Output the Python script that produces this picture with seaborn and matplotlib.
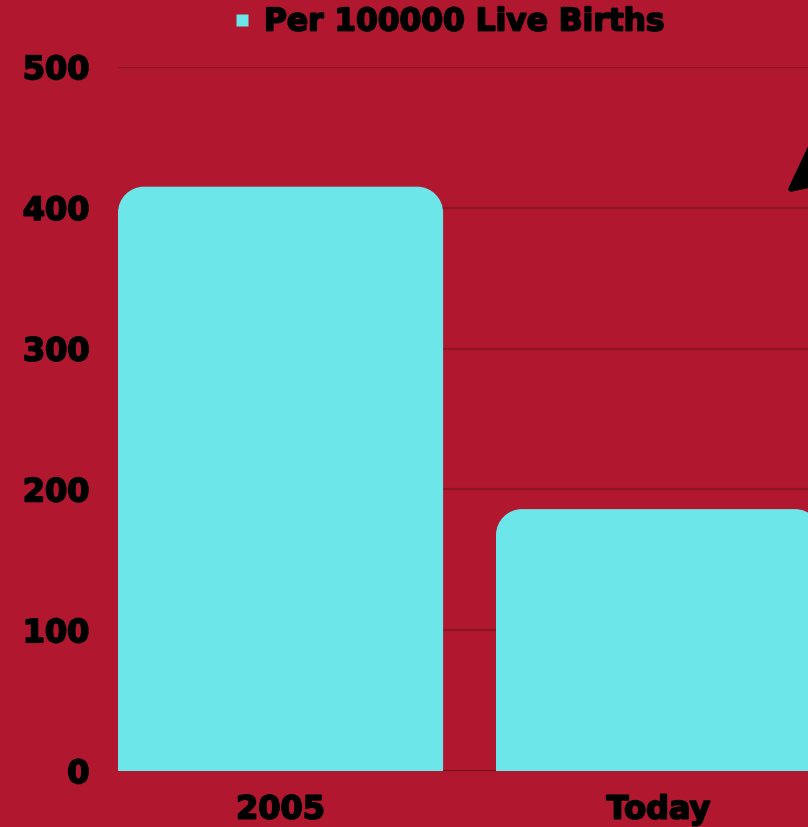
import numpy as np
import pandas as pd
import seaborn as sns
import matplotlib.pyplot as plt
import matplotlib.patheffects as pe
from matplotlib.path import Path
from matplotlib.patches import PathPatch, Polygon
from matplotlib.lines import Line2D

# data
categories = ['2005', 'Today']
values = [415, 186]
series_name = 'Per 100000 Live Births'
y_ticks = [0, 100, 200, 300, 400, 500]

BG = '#B11830'
BAR = '#6CE6E8'
GRID = '#8E1426'


def rounded_top(x0, x1, y0, y1, rx, ry):
    """Path of a bar with rounded top corners (radii in data units)."""
    k = 0.5523
    verts = [
        (x0, y0), (x0, y1 - ry),
        (x0, y1 - ry + k * ry), (x0 + rx - k * rx, y1), (x0 + rx, y1),
        (x1 - rx, y1),
        (x1 - rx + k * rx, y1), (x1, y1 - ry + k * ry), (x1, y1 - ry),
        (x1, y0), (x0, y0),
    ]
    codes = [Path.MOVETO, Path.LINETO,
             Path.CURVE4, Path.CURVE4, Path.CURVE4,
             Path.LINETO,
             Path.CURVE4, Path.CURVE4, Path.CURVE4,
             Path.LINETO, Path.CLOSEPOLY]
    return Path(verts, codes)


sns.set_theme(style='white')
plt.rcParams['font.family'] = ['DejaVu Sans']

W, H = 808, 827
fig = plt.figure(figsize=(W / 100, H / 100), dpi=100, facecolor=BG)

# axes reaches past the right edge, like the cropped original
xmin, xmax = -0.43, 1.5
px_x = 378.0
ax_w = (xmax - xmin) * px_x
ax = fig.add_axes([118 / W, (H - 771) / H, ax_w / W, 704 / H])
ax.set_facecolor(BG)

df = pd.DataFrame({'period': categories, 'rate': values})
sns.barplot(data=df, x='period', y='rate', color=BAR, width=0.86,
            saturation=1, ax=ax, zorder=3)

ax.set_xlim(xmin, xmax)
ax.set_ylim(0, 500)
ax.set_yticks(y_ticks)
ax.set_xlabel('')
ax.set_ylabel('')

# gridlines
for t in y_ticks[1:]:
    ax.axhline(t, color=GRID, lw=1.6, zorder=1)
ax.axhline(0, color='#6A0E1A', lw=2, zorder=1)

# rounded bar tops
rad_px = 26
rx = rad_px / px_x
ry = rad_px / (704 / 500)
for p in list(ax.patches):
    x0, y0 = p.get_x(), p.get_y()
    x1, y1 = x0 + p.get_width(), y0 + p.get_height()
    p.set_visible(False)
    ax.add_patch(PathPatch(rounded_top(x0, x1, y0, y1, rx, ry),
                           facecolor=BAR, edgecolor='none', zorder=3))

# heavier look for the bold text
heavy = [pe.withStroke(linewidth=1.3, foreground='black')]

for s in ax.spines.values():
    s.set_visible(False)
ax.tick_params(axis='both', length=0, labelsize=23, labelcolor='black')
ax.tick_params(axis='y', pad=20.5)
ax.tick_params(axis='x', pad=17)
for lab in ax.get_xticklabels() + ax.get_yticklabels():
    lab.set_fontweight('bold')
    lab.set_path_effects(heavy)

# legend
handle = Line2D([], [], marker='s', ls='none', markersize=9,
                markerfacecolor=BAR, markeredgecolor='none')
leg = fig.legend([handle], [series_name], loc='center',
                 bbox_to_anchor=(447 / W, 1 - 22 / H), frameon=False,
                 handletextpad=0.3, handlelength=0.8, labelcolor='black',
                 prop={'size': 22.5, 'weight': 'bold'})
for t in leg.get_texts():
    t.set_path_effects(heavy)

# black arrow head peeking in at the top right
arrow = Polygon([(791 / W, 1 - 189 / H), (840 / W, 1 - 85 / H),
                 (880 / W, 1 - 170 / H)], closed=True,
                transform=fig.transFigure, facecolor='black',
                edgecolor='black', lw=4, joinstyle='round', zorder=5)
fig.patches.append(arrow)

fig.savefig('out.png', dpi=100, facecolor=BG)
